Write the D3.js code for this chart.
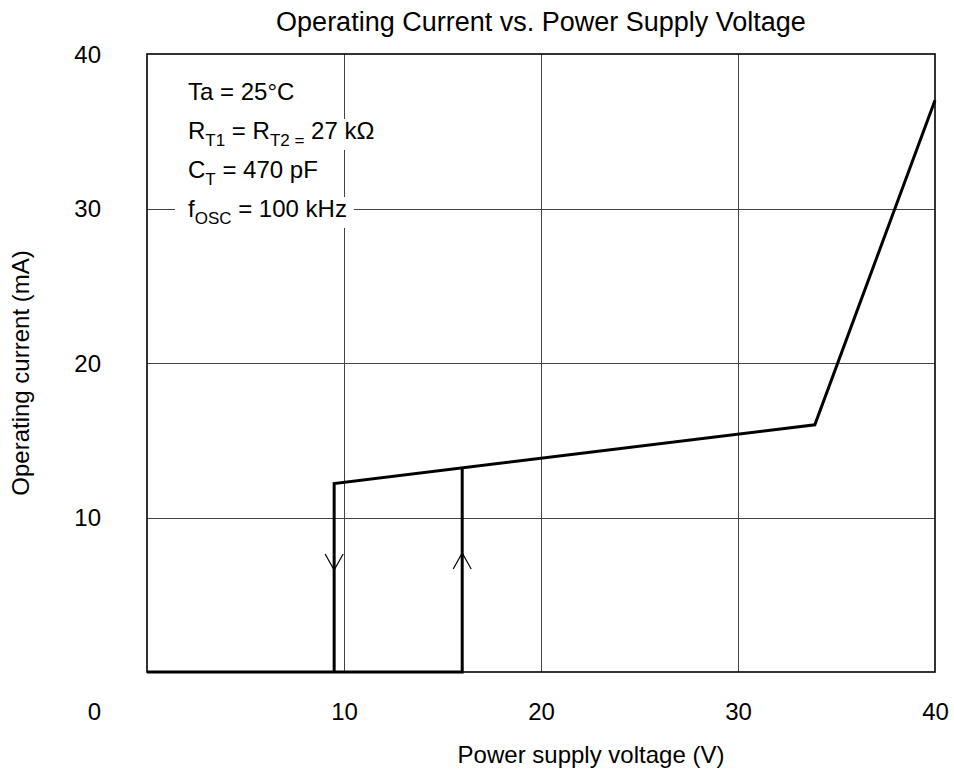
<!DOCTYPE html>
<html>
<head>
<meta charset="utf-8">
<script src="https://cdn.jsdelivr.net/npm/d3@7"></script>
<style>
  body { margin: 0; background: #fff; }
  text { font-family: "Liberation Sans", Arial, sans-serif; fill: #000; }
</style>
</head>
<body>
<div id="chart"></div>
<script>
// values
var xTicks = [10, 20, 30, 40];
var yTicks = [10, 20, 30, 40];
var gridVals = [10, 20, 30];

// rising sweep: stays off until 16 V, then jumps up
var riseV = [0, 16, 16];
var riseI = [0, 0, 13.2];
// operating curve, falling branch drops out at 9.5 V
var curveV = [9.5, 9.5, 33.9, 40];
var curveI = [0, 12.2, 16.0, 37.0];

var arrowV = [9.5, 16];
var arrowI = [6.6, 7.7];
var arrowDir = [1, -1]; // 1 = pointing down, -1 = pointing up

// [text, isSubscript]
var notes = [
  [["Ta = 25°C", 0]],
  [["R", 0], ["T1", 1], [" = R", 0], ["T2 =", 1], [" 27 kΩ", 0]],
  [["C", 0], ["T", 1], [" = 470 pF", 0]],
  [["f", 0], ["OSC", 1], [" = 100 kHz", 0]]
];

var W = 954, H = 774;
var m = {left: 147, right: 19, top: 54, bottom: 102};

var svg = d3.select("#chart").append("svg")
    .attr("width", W)
    .attr("height", H);

var x = d3.scaleLinear().domain([0, 40]).range([m.left, W - m.right]);
var y = d3.scaleLinear().domain([0, 40]).range([H - m.bottom, m.top]);

// grid
svg.append("g").selectAll("line")
    .data(gridVals)
  .enter().append("line")
    .attr("x1", function(d) { return Math.round(x(d)) + 0.5; })
    .attr("x2", function(d) { return Math.round(x(d)) + 0.5; })
    .attr("y1", y(0)).attr("y2", y(40))
    .attr("stroke", "#444").attr("stroke-width", 1);
svg.append("g").selectAll("line")
    .data(gridVals)
  .enter().append("line")
    .attr("y1", function(d) { return Math.round(y(d)) + 0.5; })
    .attr("y2", function(d) { return Math.round(y(d)) + 0.5; })
    .attr("x1", x(0)).attr("x2", x(40))
    .attr("stroke", "#444").attr("stroke-width", 1);

// axes (labels only, frame drawn separately)
var xAxis = svg.append("g")
    .attr("transform", "translate(0," + y(0) + ")")
    .call(d3.axisBottom(x).tickValues(xTicks).tickSize(0).tickPadding(48));
var yAxis = svg.append("g")
    .attr("transform", "translate(" + x(0) + ",0)")
    .call(d3.axisLeft(y).tickValues(yTicks).tickSize(0).tickPadding(46));
[xAxis, yAxis].forEach(function(a) {
  a.select(".domain").remove();
  a.selectAll("text")
    .style("font-family", '"Liberation Sans", Arial, sans-serif')
    .style("font-size", "24px");
});
xAxis.selectAll("text").attr("dy", 0);
yAxis.selectAll("text").attr("dy", "0.35em");

// origin label sits at the corner
svg.append("text")
    .attr("x", x(0) - 46)
    .attr("y", y(0) + 48)
    .attr("text-anchor", "end")
    .style("font-size", "24px")
    .text("0");

// frame
svg.append("rect")
    .attr("x", x(0)).attr("y", y(40))
    .attr("width", x(40) - x(0)).attr("height", y(0) - y(40))
    .attr("fill", "none").attr("stroke", "#000").attr("stroke-width", 1.6);

// notes, each line on a white backing that breaks the grid
var noteG = svg.append("g");
notes.forEach(function(parts, i) {
  var g = noteG.append("g");
  var bg = g.append("rect").attr("fill", "#fff");
  var t = g.append("text")
      .attr("x", 188)
      .attr("y", 100 + i * 39)
      .style("font-size", "24px");
  var cur = 0;
  parts.forEach(function(p) {
    var target = p[1] ? 7 : 0;
    t.append("tspan")
      .attr("dy", target - cur)
      .style("font-size", p[1] ? "17px" : "24px")
      .text(p[0]);
    cur = target;
  });
  var bb = t.node().getBBox();
  bg.attr("x", bb.x - 13).attr("y", bb.y + 2)
    .attr("width", bb.width + 20).attr("height", bb.height - 2);
});

// curve lines
var line = d3.line()
    .x(function(d) { return x(d[0]); })
    .y(function(d) { return y(d[1]); });

svg.append("path")
    .datum(d3.zip(riseV, riseI))
    .attr("d", line)
    .attr("fill", "none").attr("stroke", "#000").attr("stroke-width", 3);
svg.append("path")
    .datum(d3.zip(curveV, curveI))
    .attr("d", line)
    .attr("fill", "none").attr("stroke", "#000").attr("stroke-width", 3);

// direction arrows
arrowV.forEach(function(v, i) {
  var tx = x(v), ty = y(arrowI[i]), d = arrowDir[i];
  svg.append("path")
    .attr("d", "M" + (tx - 9) + "," + (ty - 16 * d) + "L" + tx + "," + ty +
               "L" + (tx + 9) + "," + (ty - 16 * d))
    .attr("fill", "none").attr("stroke", "#000").attr("stroke-width", 1.2);
});

// titles
svg.append("text")
    .attr("x", x(20))
    .attr("y", 31)
    .attr("text-anchor", "middle")
    .style("font-size", "27px")
    .text("Operating Current vs. Power Supply Voltage");
svg.append("text")
    .attr("x", 591)
    .attr("y", 763)
    .attr("text-anchor", "middle")
    .style("font-size", "24px")
    .text("Power supply voltage (V)");
svg.append("text")
    .attr("transform", "translate(29,373)rotate(-90)")
    .attr("text-anchor", "middle")
    .style("font-size", "24px")
    .text("Operating current (mA)");
</script>
</body>
</html>
